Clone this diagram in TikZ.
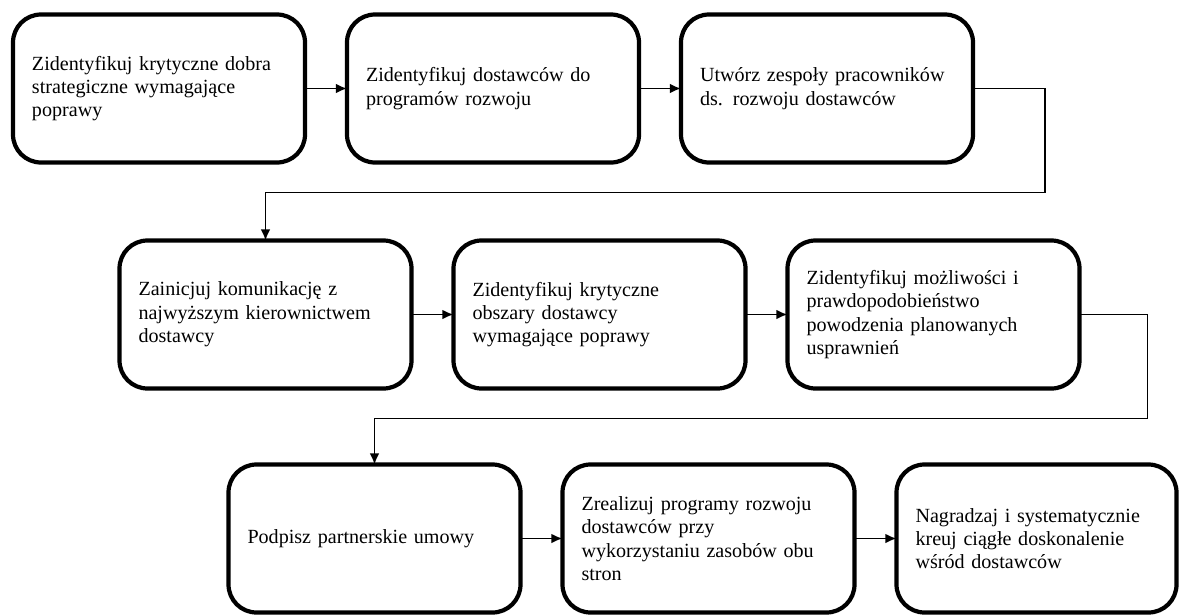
\documentclass[tikz,border=0pt]{standalone}
\usepackage{fontspec}
\setmainfont{Liberation Serif}
\usetikzlibrary{positioning, calc, arrows.meta}

\begin{document}
\begin{tikzpicture}[node distance=1.05cm, auto, >={Latex[length=2.8mm,width=2.4mm]}]
        % Define block styles
        \tikzstyle{block} = [rectangle, draw, line width=3pt, rounded corners=0.7cm, text width=6.35cm, align=left, minimum width=7.3cm, minimum height=3.7cm, outer sep=0pt, font=\fontsize{14.3}{16.6}\selectfont]
        \tikzstyle{line} = [draw, ->, line width=1.1pt]

        \useasboundingbox (0,0) rectangle (29.525,-15.375);

        % Place first row
        \node [block] (strat) at (3.975,-2.2125) {Zidentyfikuj krytyczne dobra\\strategiczne wymagające\\poprawy};
        \node [block, right=of strat] (supp) {Zidentyfikuj dostawców do\\programów rozwoju};
        \node [block, right=of supp] (team) {Utwórz zespoły pracowników\\ds. rozwoju dostawców};

        % Place second row
        \node [block] (comm) at (6.6375,-7.8625) {Zainicjuj komunikację z\\najwyższym kierownictwem\\dostawcy};
        \node [block, right=of comm] (area) {Zidentyfikuj krytyczne\\obszary dostawcy\\wymagające poprawy};
        \node [block, right=of area] (chance) {Zidentyfikuj możliwości i\\prawdopodobieństwo\\powodzenia planowanych\\usprawnień};

        % Place third row
        \node [block] (contract) at (9.3625,-13.4625) {Podpisz partnerskie umowy};
        \node [block, right=of contract] (program) {Zrealizuj programy rozwoju\\dostawców przy\\wykorzystaniu zasobów obu\\stron};
        \node [block, right=of program, minimum width=7cm, text width=6.05cm] (reward) {Nagradzaj i systematycznie\\kreuj ciągłe doskonalenie\\wśród dostawców};

        % Draw connections within rows
        \draw [line] (strat) -- (supp);
        \draw [line] (supp) -- (team);
        \draw [line] (comm) -- (area);
        \draw [line] (area) -- (chance);
        \draw [line] (contract) -- (program);
        \draw [line] (program) -- (reward);

        % Draw connections between rows
        \draw [line] (team.east) -- ++(1.8,0) |- ($(comm.north)+(0,1.2)$) -- (comm.north);
        \draw [line] (chance.east) -- ++(1.7,0) |- ($(contract.north)+(0,1.15)$) -- (contract.north);

    \end{tikzpicture}
\end{document}
